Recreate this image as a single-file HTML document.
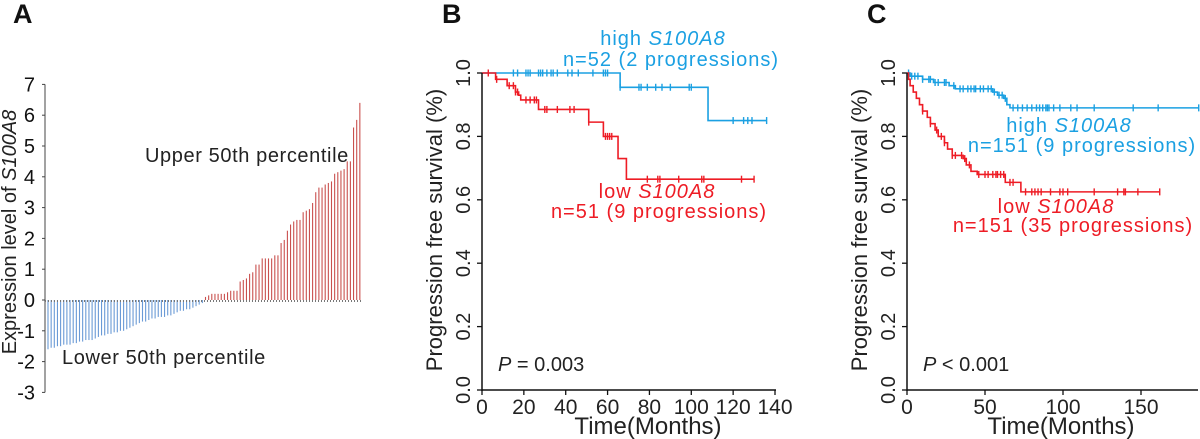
<!DOCTYPE html>
<html><head><meta charset="utf-8">
<style>
html,body{margin:0;padding:0;background:#fff;}
svg{display:block;font-family:"Liberation Sans",Arial,sans-serif;}
</style></head>
<body>
<svg id="fig" width="1200" height="439" viewBox="0 0 1200 439" xmlns="http://www.w3.org/2000/svg">
<g id="gA"></g>
<g id="gB"></g>
<g id="gC"></g>
</svg>
<script>
// Panel A data
const lowExpr = [-1.6,-1.55,-1.55,-1.5,-1.5,-1.45,-1.45,-1.45,-1.4,-1.4,-1.35,-1.35,-1.3,-1.3,-1.3,-1.25,-1.2,-1.15,-1.15,-1.1,-1.1,-1.05,-1.05,-1.0,-1.0,-0.95,-0.9,-0.85,-0.8,-0.75,-0.7,-0.7,-0.65,-0.6,-0.6,-0.55,-0.55,-0.55,-0.5,-0.5,-0.45,-0.4,-0.35,-0.35,-0.3,-0.3,-0.25,-0.2,-0.15,-0.1];
const highExpr = [0.1,0.15,0.2,0.2,0.2,0.2,0.2,0.25,0.3,0.3,0.3,0.6,0.65,0.7,0.85,0.9,1.15,1.15,1.35,1.35,1.35,1.35,1.45,1.45,1.85,1.95,2.25,2.45,2.55,2.6,2.6,2.85,2.9,2.95,3.15,3.5,3.65,3.65,3.75,3.8,3.85,4.1,4.15,4.2,4.25,4.5,4.5,5.6,5.85,6.4];
const aTicks = [7,6,5,4,3,2,1,0,-1,-2,-3];
// Panel B data
const bHighT = [0,66,108,136];
const bHighS = [1.0,0.955,0.85,0.85];
const bHighCens = [15,17,21,22,23,27,28,29,31,33,34,36,41,43,46,53,58,59,60,66,75,76,79,83,86,90,99,100,120,125,127,129,136];
const bLowT = [0,6.5,12,16,17.5,18.5,27,51,58,65,69,130];
const bLowS = [1.0,0.98,0.96,0.94,0.93,0.915,0.885,0.845,0.80,0.73,0.665,0.665];
const bLowCens = [3,7,13,15,16,17,21,23,25,26,30,31,36,42,44,51,59,60,61,62,79,84,85,94,105,106,124,130];
const bXTicks = [0,20,40,60,80,100,120,140];
// Panel C data
const cHighT = [0,2,10,17,27,31,55,58,62,64,66,187];
const cHighS = [1.0,0.99,0.98,0.97,0.96,0.95,0.94,0.93,0.92,0.90,0.89,0.89];
const cHighCens = [1,3,5,7,10,14,15,18,20,24,25,30,34,36,39,41,43,44,47,49,52,54,56,59,61,63,68,71,74,77,80,83,85,87,89,90,91,94,98,105,109,120,145,161,187];
const cLowT = [0,1,2,4,6,8,10,13,15,18,20,24,26,29,36,38,41,45,63,73,162];
const cLowS = [1.0,0.98,0.96,0.94,0.92,0.9,0.88,0.86,0.84,0.82,0.80,0.78,0.76,0.74,0.73,0.71,0.69,0.68,0.655,0.625,0.625];
const cLowCens = [10,15,19,22,24,29,31,35,37,40,46,50,52,55,57,58,60,62,66,68,76,80,82,84,86,92,98,100,103,120,135,139,140,148,162];
const cXTicks = [0,50,100,150];
const yTicks = [0,0.2,0.4,0.6,0.8,1.0];

const NS = "http://www.w3.org/2000/svg";
function mk(parent, tag, attrs, text){
  const e = document.createElementNS(NS, tag);
  for (const k in attrs) e.setAttribute(k, attrs[k]);
  if (text !== undefined) e.textContent = text;
  parent.appendChild(e);
  return e;
}

// ---------- Panel A ----------
const gA = document.getElementById('gA');
const aY = v => 300 - v * 30.8;
const allExpr = lowExpr.concat(highExpr);
const aX = i => 47 + i * (315 / allExpr.length);
let t = mk(gA,'text',{x:13,y:23,'font-size':27,'font-weight':'bold',fill:'#111'},'A');


allExpr.forEach((v,i)=>{
  const r = mk(gA,'line',{x1:aX(i)+1,x2:aX(i)+1,y1:aY(0),y2:aY(v),stroke: v<0?'#6a9ad6':'#c9504e','stroke-width':1.1});
  
  
});
let ax = mk(gA,'line',{x1:45,x2:45,y1:aY(7),y2:aY(-3),stroke:'#444','stroke-width':1});


let zl = mk(gA,'line',{x1:45,x2:363,y1:aY(0)+1,y2:aY(0)+1,stroke:'#777','stroke-width':2,'stroke-dasharray':'1,2'});


aTicks.forEach(v=>{
  mk(gA,'line',{x1:42,x2:45,y1:aY(v),y2:aY(v),stroke:'#444'});
  const tl = mk(gA,'text',{x:35,y:aY(v)+7,'font-size':20,'text-anchor':'end',fill:'#111'},String(v));
  
  
});
t = mk(gA,'text',{transform:'translate(16,232) rotate(-90)','font-size':20,'text-anchor':'middle',fill:'#222'});


t.innerHTML = 'Expression level of <tspan font-style="italic">S100A8</tspan>';
t = mk(gA,'text',{x:145,y:162,'font-size':20,fill:'#222','letter-spacing':0.6},'Upper 50th percentile');


t = mk(gA,'text',{x:62,y:364,'font-size':20,fill:'#222','letter-spacing':0.6},'Lower 50th percentile');



// ---------- KM panels ----------
function kmPanel(g, opt){
  const X = v => opt.x0 + v * opt.px;
  const Y = s => 390 - s * 317;
  let l = mk(g,'text',{x:opt.x0-40,y:23,'font-size':27,'font-weight':'bold',fill:'#111'},opt.letter);
  
  
  function curve(T,S,cens,color,name){
    let d = 'M'+X(T[0])+','+Y(S[0]);
    for (let i=1;i<T.length;i++){ d += ' H'+X(T[i])+' V'+Y(S[i]); }
    const p = mk(g,'path',{d:d,fill:'none',stroke:color,'stroke-width':1.6});
    
    
    cens.forEach(c=>{
      let s = S[0];
      for (let i=0;i<T.length;i++){ if (T[i] <= c) s = S[i]; }
      const m = mk(g,'line',{x1:X(c),x2:X(c),y1:Y(s)-3.5,y2:Y(s)+3.5,stroke:color,'stroke-width':1.4});
      
      
    });
  }
  curve(opt.hT,opt.hS,opt.hC,'#1ba0e2','high');
  curve(opt.lT,opt.lS,opt.lC,'#ee1c25','low');
  let a1 = mk(g,'line',{x1:opt.x0,x2:opt.x0,y1:Y(1),y2:Y(0)+1,stroke:'#111','stroke-width':1.5});
  
  
  let a2 = mk(g,'line',{x1:opt.x0,x2:opt.xEnd,y1:Y(0),y2:Y(0),stroke:'#111','stroke-width':1.5});
  
  
  yTicks.forEach(v=>{
    mk(g,'line',{x1:opt.x0-5,x2:opt.x0,y1:Y(v),y2:Y(v),stroke:'#111','stroke-width':1.3});
    const tl = mk(g,'text',{transform:'translate('+(opt.x0-12)+','+Y(v)+') rotate(-90)','font-size':20,'text-anchor':'middle',fill:'#222'},v.toFixed(1));
    
    
  });
  opt.xt.forEach(v=>{
    mk(g,'line',{x1:X(v),x2:X(v),y1:Y(0),y2:Y(0)+5,stroke:'#111','stroke-width':1.3});
    const tl = mk(g,'text',{x:X(v),y:414,'font-size':21,'text-anchor':'middle',fill:'#222'},String(v));
    
    
  });
  let xt = mk(g,'text',{x:opt.xTitle,y:434,'font-size':24,'text-anchor':'middle',fill:'#222'},'Time(Months)');
  
  
  let yt = mk(g,'text',{transform:'translate('+(opt.x0-40)+',230) rotate(-90)','font-size':22,'text-anchor':'middle',fill:'#222'},'Progression free survival (%)');
  
  
  opt.labels.forEach(L=>{
    const e = mk(g,'text',{x:L.x,y:L.y,'font-size':20,'text-anchor':'middle',fill:L.c,'letter-spacing':1});
    
    
    e.innerHTML = L.h;
  });
  const pv = mk(g,'text',{x:opt.x0+16,y:371,'font-size':20,fill:'#222'});
  
  
  pv.innerHTML = '<tspan font-style="italic">P</tspan> '+opt.p;
}

kmPanel(document.getElementById('gB'),{
  letter:'B', x0:482, px:293/140, xEnd:776, xt:bXTicks, xTitle:648,
  hT:bHighT,hS:bHighS,hC:bHighCens,lT:bLowT,lS:bLowS,lC:bLowCens, p:'= 0.003',
  labels:[
    {x:663,y:45,c:'#1ba0e2',n:'high-legend-label',h:'high <tspan font-style="italic">S100A8</tspan>'},
    {x:671,y:66,c:'#1ba0e2',n:'high-legend-count',h:'n=52 (2  progressions)'},
    {x:657,y:198,c:'#ee1c25',n:'low-legend-label',h:'low <tspan font-style="italic">S100A8</tspan>'},
    {x:659,y:218,c:'#ee1c25',n:'low-legend-count',h:'n=51 (9 progressions)'}
  ]
});
kmPanel(document.getElementById('gC'),{
  letter:'C', x0:907, px:156/100, xEnd:1198, xt:cXTicks, xTitle:1061,
  hT:cHighT,hS:cHighS,hC:cHighCens,lT:cLowT,lS:cLowS,lC:cLowCens, p:'< 0.001',
  labels:[
    {x:1069,y:132,c:'#1ba0e2',n:'high-legend-label',h:'high <tspan font-style="italic">S100A8</tspan>'},
    {x:1082,y:152,c:'#1ba0e2',n:'high-legend-count',h:'n=151 (9  progressions)'},
    {x:1056,y:213,c:'#ee1c25',n:'low-legend-label',h:'low <tspan font-style="italic">S100A8</tspan>'},
    {x:1073,y:232,c:'#ee1c25',n:'low-legend-count',h:'n=151 (35 progressions)'}
  ]
});
</script>
</body></html>
